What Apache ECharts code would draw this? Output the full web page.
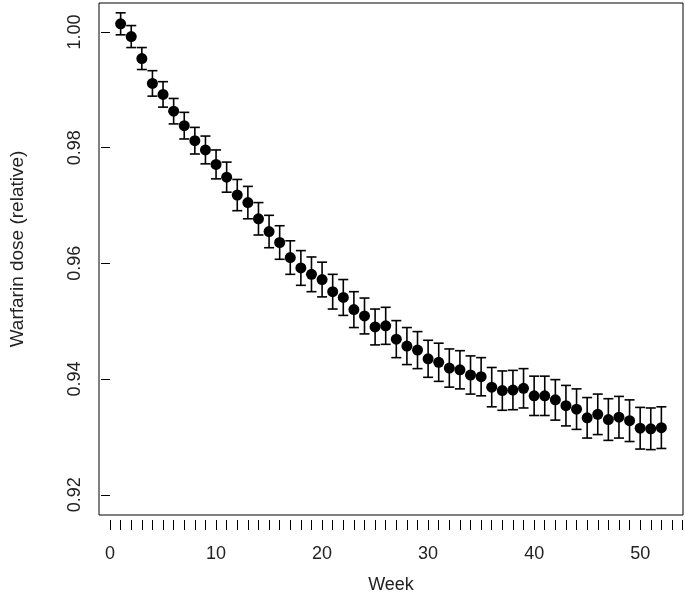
<!DOCTYPE html>
<html>
<head>
<meta charset="utf-8">
<script src="https://cdn.jsdelivr.net/npm/echarts@6/dist/echarts.min.js"></script>
<style>
  html, body { margin: 0; padding: 0; background: #fff; }
  #chart { width: 685px; height: 610px; }
</style>
</head>
<body>
<div id="chart"></div>
<script>
// relative warfarin dose by week, mean and half-width of error bar
const weeks = Array.from({length: 52}, (_, i) => i + 1);
const dose = [
  1.0014, 0.9992, 0.9954, 0.9911, 0.9892, 0.9863, 0.9838, 0.9812, 0.9796, 0.9771,
  0.9749, 0.9718, 0.9705, 0.9677, 0.9655, 0.9636, 0.9610, 0.9592, 0.9581, 0.9572,
  0.9551, 0.9541, 0.9520, 0.9509, 0.9490, 0.9492, 0.9469, 0.9457, 0.9450, 0.9435,
  0.9429, 0.9419, 0.9416, 0.9407, 0.9404, 0.9386, 0.9380, 0.9381, 0.9384, 0.9371,
  0.9371, 0.9364, 0.9354, 0.9348, 0.9333, 0.9339, 0.9330, 0.9334, 0.9328, 0.9315,
  0.9314, 0.9316
];
const halfErr = [
  0.0019, 0.0019, 0.0019, 0.0022, 0.0022, 0.0022, 0.0023, 0.0023, 0.0024, 0.0025,
  0.0026, 0.0027, 0.0028, 0.0028, 0.0028, 0.0029, 0.0029, 0.0030, 0.0030, 0.0030,
  0.0030, 0.0031, 0.0031, 0.0031, 0.0031, 0.0032, 0.0032, 0.0032, 0.0032, 0.0032,
  0.0033, 0.0033, 0.0033, 0.0033, 0.0033, 0.0034, 0.0034, 0.0034, 0.0034, 0.0034,
  0.0034, 0.0035, 0.0035, 0.0035, 0.0035, 0.0035, 0.0036, 0.0036, 0.0036, 0.0036,
  0.0036, 0.0036
];
const xTicks = Array.from({length: 55}, (_, i) => i);
const xLabels = [0, 10, 20, 30, 40, 50];
const yLabels = [0.92, 0.94, 0.96, 0.98, 1.00];

const font = 'Liberation Sans, Arial, sans-serif';

const chart = echarts.init(document.getElementById('chart'));

const points = weeks.map((w, i) => [w, dose[i]]);
const bars = weeks.map((w, i) => [w, dose[i] - halfErr[i], dose[i] + halfErr[i]]);

const option = {
  animation: false,
  grid: {
    left: 96, right: 2, top: 3, bottom: 95,
    show: true, borderColor: '#000', borderWidth: 1, backgroundColor: '#fff'
  },
  xAxis: {
    type: 'value',
    min: -1.04, max: 54.04,
    offset: 5,
    name: 'Week',
    nameLocation: 'middle',
    nameGap: 56,
    nameTextStyle: { fontFamily: font, fontSize: 18, color: '#222' },
    axisLine: { show: false },
    splitLine: { show: false },
    axisTick: {
      show: true, inside: false, length: 10,
      customValues: xTicks,
      lineStyle: { color: '#000', width: 1 }
    },
    axisLabel: {
      customValues: xLabels,
      margin: 25,
      fontFamily: font, fontSize: 18, color: '#222'
    }
  },
  yAxis: {
    type: 'value',
    min: 0.9165, max: 1.005,
    name: 'Warfarin dose (relative)',
    nameLocation: 'middle',
    nameGap: 72,
    nameRotate: 90,
    nameTextStyle: { fontFamily: font, fontSize: 19, color: '#222', padding: [0, 0, 0, 20] },
    axisLine: { show: false },
    splitLine: { show: false },
    axisTick: {
      show: true, inside: false, length: 9,
      customValues: yLabels,
      lineStyle: { color: '#000', width: 1 }
    },
    axisLabel: {
      customValues: yLabels,
      rotate: 90,
      margin: 15,
      formatter: v => v.toFixed(2),
      fontFamily: font, fontSize: 18, color: '#222'
    }
  },
  series: [
    {
      type: 'custom',
      data: bars,
      renderItem: function (params, api) {
        const x = api.value(0);
        const lo = api.coord([x, api.value(1)]);
        const hi = api.coord([x, api.value(2)]);
        const cap = 5;
        const style = { stroke: '#000', lineWidth: 1.6 };
        return {
          type: 'group',
          children: [
            { type: 'line', shape: { x1: lo[0], y1: lo[1], x2: hi[0], y2: hi[1] }, style },
            { type: 'line', shape: { x1: hi[0] - cap, y1: hi[1], x2: hi[0] + cap, y2: hi[1] }, style },
            { type: 'line', shape: { x1: lo[0] - cap, y1: lo[1], x2: lo[0] + cap, y2: lo[1] }, style }
          ]
        };
      },
      z: 2
    },
    {
      type: 'scatter',
      data: points,
      symbol: 'circle',
      symbolSize: 11,
      itemStyle: { color: '#000', opacity: 1 },
      z: 3
    }
  ]
};

chart.setOption(option);
</script>
</body>
</html>
